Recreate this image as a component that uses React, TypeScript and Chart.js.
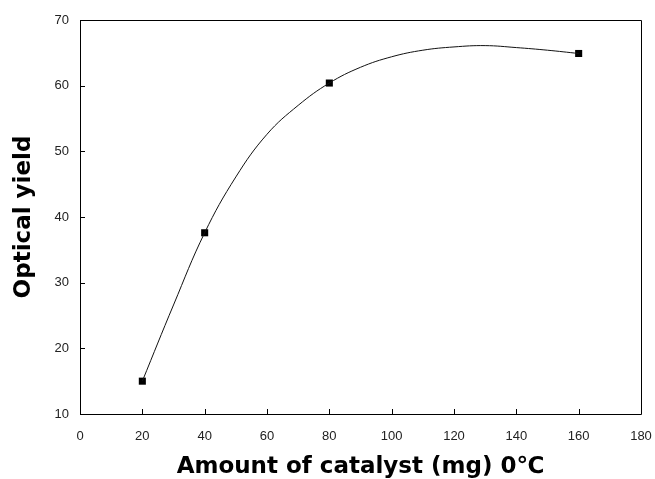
import React, { useEffect, useRef } from "react";
import { Chart, registerables } from "chart.js";

Chart.register(...registerables);

const measuredX = [20, 40, 80, 160];
const measuredY = [15, 37.6, 60.4, 64.9];

const curveX = [20, 30, 40, 50, 60, 70, 80, 90, 100, 110, 120, 130, 140, 150, 160];
const curveY = [15, 26.6, 37.6, 46.1, 52.6, 57.0, 60.4, 62.8, 64.4, 65.4, 65.9, 66.1, 65.8, 65.4, 64.9];

const xTitle = "Amount of catalyst (mg) 0℃";
const yTitle = "Optical yield";

const boxTicks = {
  id: "boxTicks",
  afterDatasetsDraw(chart: any) {
    const { ctx, chartArea, scales } = chart;
    const { left, right, top, bottom } = chartArea;
    ctx.save();
    ctx.strokeStyle = "#000";
    ctx.lineWidth = 1;
    ctx.beginPath();
    ctx.rect(Math.round(left) + 0.5, Math.round(top) + 0.5, Math.round(right - left), Math.round(bottom - top));
    ctx.stroke();
    const len = 5;
    ctx.beginPath();
    scales.x.ticks.forEach((t: any) => {
      const px = Math.round(scales.x.getPixelForValue(t.value)) + 0.5;
      ctx.moveTo(px, bottom);
      ctx.lineTo(px, bottom - len);
    });
    scales.y.ticks.forEach((t: any) => {
      const py = Math.round(scales.y.getPixelForValue(t.value)) + 0.5;
      ctx.moveTo(left, py);
      ctx.lineTo(left + len, py);
    });
    ctx.stroke();
    ctx.restore();
  },
};

export default function App() {
  const ref = useRef<HTMLCanvasElement | null>(null);

  useEffect(() => {
    if (!ref.current) return;
    const chart = new Chart(ref.current, {
      type: "line",
      data: {
        datasets: [
          {
            label: "fit",
            data: curveX.map((x, i) => ({ x, y: curveY[i] })),
            borderColor: "#111",
            borderWidth: 1,
            pointRadius: 0,
            tension: 0.4,
            fill: false,
          },
          {
            label: "measured",
            data: measuredX.map((x, i) => ({ x, y: measuredY[i] })),
            showLine: false,
            pointStyle: "rect",
            pointRadius: 5,
            pointBackgroundColor: "#000",
            pointBorderColor: "#000",
            pointBorderWidth: 0,
          },
        ],
      },
      plugins: [boxTicks],
      options: {
        animation: false,
        responsive: false,
        maintainAspectRatio: false,
        layout: { padding: { top: 20, right: 14, left: 0, bottom: 0 } },
        plugins: { legend: { display: false }, tooltip: { enabled: false } },
        scales: {
          x: {
            type: "linear",
            min: 0,
            max: 180,
            grid: { display: false, drawTicks: false },
            border: { display: false },
            ticks: {
              stepSize: 20,
              padding: 15,
              color: "#222",
              font: { family: "Liberation Sans", size: 13 },
              maxRotation: 0,
            },
            title: {
              display: true,
              text: xTitle,
              color: "#000",
              font: { family: "DejaVu Sans", size: 23, weight: "bold", lineHeight: 1 },
              padding: { top: 0, bottom: 0 },
            },
            afterFit: (s: any) => {
              s.height = 65;
              s.paddingLeft = 0;
              s.paddingRight = 0;
            },
          },
          y: {
            type: "linear",
            min: 10,
            max: 70,
            grid: { display: false, drawTicks: false },
            border: { display: false },
            ticks: {
              stepSize: 10,
              padding: 11,
              color: "#222",
              font: { family: "Liberation Sans", size: 13 },
            },
            title: {
              display: true,
              text: yTitle,
              color: "#000",
              font: { family: "DejaVu Sans", size: 23, weight: "bold", lineHeight: 1 },
              padding: { top: 13, bottom: 0 },
            },
            afterFit: (s: any) => {
              s.width = 80;
              s.paddingTop = 0;
              s.paddingBottom = 0;
            },
          },
        },
      },
    });
    return () => chart.destroy();
  }, []);

  return (
    <div style={{ position: "fixed", left: 0, top: 0, width: 655, height: 479, background: "#fff" }}>
      <canvas ref={ref} width={655} height={479} style={{ display: "block", width: 655, height: 479 }} />
    </div>
  );
}
